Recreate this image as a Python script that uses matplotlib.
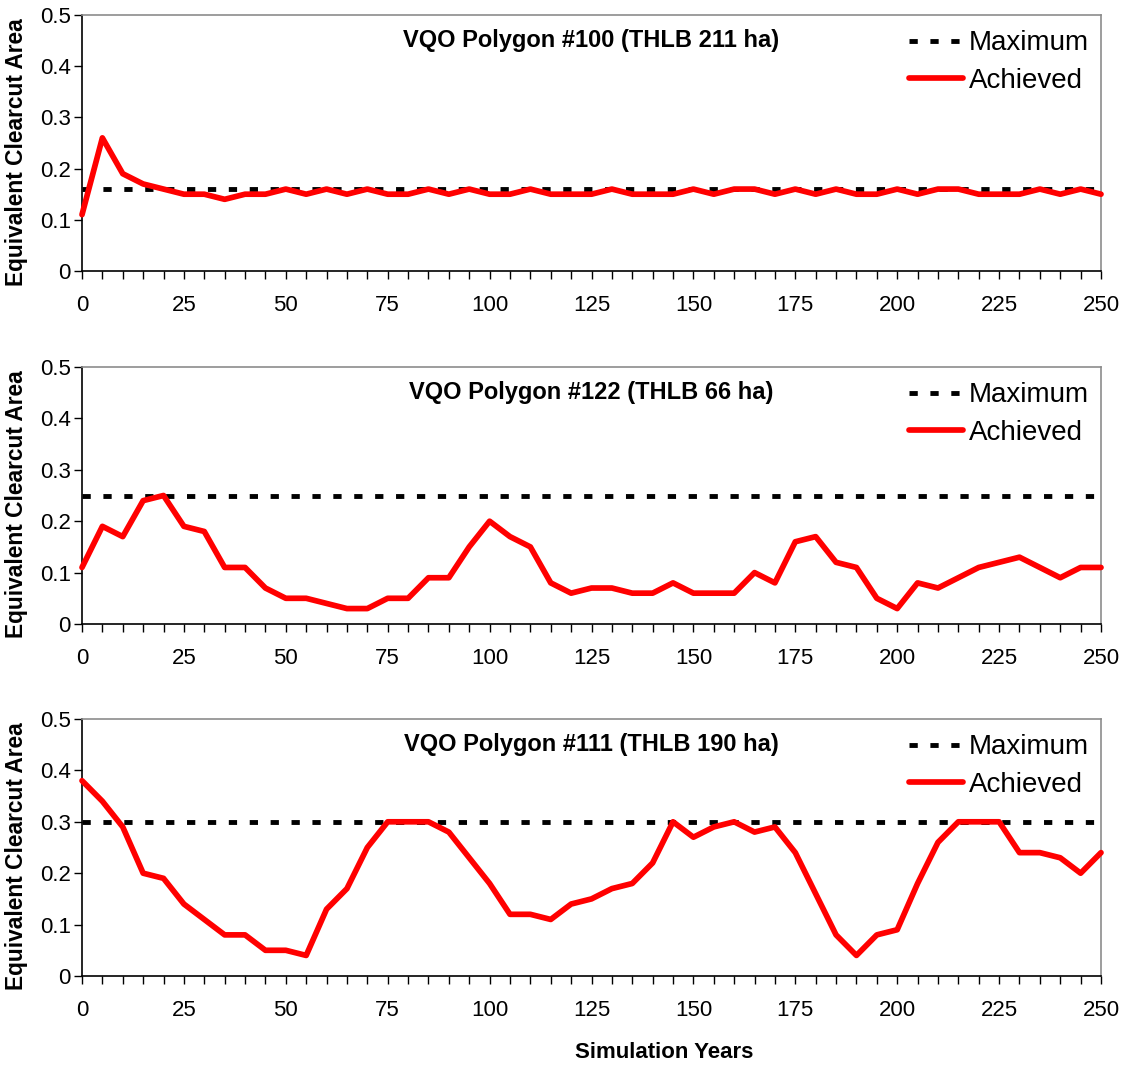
import numpy as np
import matplotlib
matplotlib.use("Agg")
import matplotlib.pyplot as plt

plt.rcParams['font.family'] = ['Liberation Sans', 'DejaVu Sans']

# simulation years (every 5 years)
years = np.arange(0, 255, 5)

titles = ["VQO Polygon #100 (THLB 211 ha)",
          "VQO Polygon #122 (THLB 66 ha)",
          "VQO Polygon #111 (THLB 190 ha)"]

max_ecc = [0.16, 0.25, 0.30]

ecc_100 = [0.11, 0.26, 0.19, 0.17, 0.16, 0.15, 0.15, 0.14, 0.15, 0.15,
           0.16, 0.15, 0.16, 0.15, 0.16, 0.15, 0.15, 0.16, 0.15, 0.16,
           0.15, 0.15, 0.16, 0.15, 0.15, 0.15, 0.16, 0.15, 0.15, 0.15,
           0.16, 0.15, 0.16, 0.16, 0.15, 0.16, 0.15, 0.16, 0.15, 0.15,
           0.16, 0.15, 0.16, 0.16, 0.15, 0.15, 0.15, 0.16, 0.15, 0.16,
           0.15]

ecc_122 = [0.11, 0.19, 0.17, 0.24, 0.25, 0.19, 0.18, 0.11, 0.11, 0.07,
           0.05, 0.05, 0.04, 0.03, 0.03, 0.05, 0.05, 0.09, 0.09, 0.15,
           0.20, 0.17, 0.15, 0.08, 0.06, 0.07, 0.07, 0.06, 0.06, 0.08,
           0.06, 0.06, 0.06, 0.10, 0.08, 0.16, 0.17, 0.12, 0.11, 0.05,
           0.03, 0.08, 0.07, 0.09, 0.11, 0.12, 0.13, 0.11, 0.09, 0.11,
           0.11]

ecc_111 = [0.38, 0.34, 0.29, 0.20, 0.19, 0.14, 0.11, 0.08, 0.08, 0.05,
           0.05, 0.04, 0.13, 0.17, 0.25, 0.30, 0.30, 0.30, 0.28, 0.23,
           0.18, 0.12, 0.12, 0.11, 0.14, 0.15, 0.17, 0.18, 0.22, 0.30,
           0.27, 0.29, 0.30, 0.28, 0.29, 0.24, 0.16, 0.08, 0.04, 0.08,
           0.09, 0.18, 0.26, 0.30, 0.30, 0.30, 0.24, 0.24, 0.23, 0.20,
           0.24]

achieved = [ecc_100, ecc_122, ecc_111]

xtick_major = [0, 25, 50, 75, 100, 125, 150, 175, 200, 225, 250]
ytick_vals = [0, 0.1, 0.2, 0.3, 0.4, 0.5]
ytick_labels = ["0", "0.1", "0.2", "0.3", "0.4", "0.5"]

fig = plt.figure(figsize=(11.25, 10.67), dpi=100)

W, H = 1125, 1067
left, right = 82, 1101
boxes = [(15, 271), (367, 624), (719, 976)]

for i, (top, bot) in enumerate(boxes):
    ax = fig.add_axes([left / W, 1 - bot / H, (right - left) / W, (bot - top) / H])

    ax.plot(years, np.full(len(years), max_ecc[i]), color='black', lw=3.5,
            linestyle=(0, (1.7, 2.6)), label="Maximum", zorder=2)
    ax.plot(years, achieved[i], color='#ff0000', lw=4.1, solid_joinstyle='round',
            solid_capstyle='round', label="Achieved", zorder=3, clip_on=False)

    ax.set_xlim(0, 250)
    ax.set_ylim(0, 0.5)
    ax.set_xticks(years, minor=True)
    ax.set_xticks(xtick_major)
    ax.set_xticklabels([str(v) for v in xtick_major])
    ax.set_yticks(ytick_vals)
    ax.set_yticklabels(ytick_labels)
    ax.tick_params(axis='x', which='both', direction='out', length=6, width=1,
                   pad=11, labelsize=16)
    ax.tick_params(axis='y', direction='out', length=6, width=1, pad=2,
                   labelsize=16)

    for s in ['top', 'right']:
        ax.spines[s].set_color('#8c8c8c')
        ax.spines[s].set_linewidth(1.2)
    for s in ['left', 'bottom']:
        ax.spines[s].set_color('black')
        ax.spines[s].set_linewidth(1.2)

    ax.set_ylabel("Equivalent Clearcut Area", fontsize=16.4, fontweight='bold')
    ax.yaxis.set_label_coords(-0.053, 0.465)

    ax.text(0.5, 0.945, titles[i], transform=ax.transAxes, ha='center', va='top',
            fontsize=17, fontweight='bold')

    ax.legend(loc='upper right', bbox_to_anchor=(0.988, 0.94), frameon=False,
              fontsize=20, borderaxespad=0, borderpad=0, handlelength=1.95,
              handletextpad=0.2, labelspacing=0.41)

fig.text(664 / W, 1 - 1053 / H, "Simulation Years", ha='center', va='center',
         fontsize=16, fontweight='bold')

fig.savefig("out.png", dpi=100)
